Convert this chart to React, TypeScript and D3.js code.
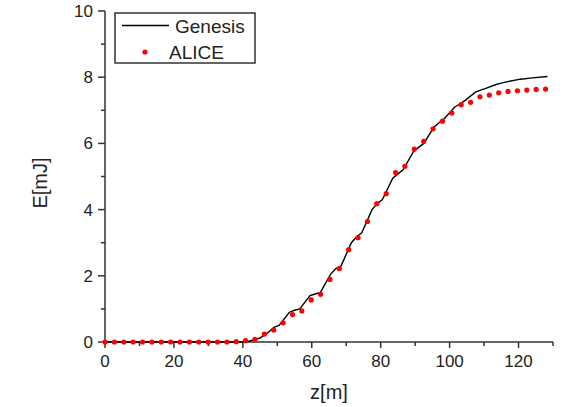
import React from "react";
import * as d3 from "d3";

const W = 567;
const H = 407;

// ALICE points: z = index * step
const aliceStep = 2.72;
const aliceE = [
  0, 0, 0, 0, 0, 0, 0, 0, 0, 0, 0, 0, 0, 0,
  0.01, 0.04, 0.08, 0.24, 0.36, 0.58, 0.83, 0.94, 1.27, 1.44,
  1.89, 2.22, 2.79, 3.15, 3.64, 4.18, 4.48, 5.12, 5.31, 5.83,
  6.06, 6.44, 6.67, 6.92, 7.17, 7.24, 7.41, 7.46, 7.53, 7.57,
  7.59, 7.61, 7.63, 7.64,
];

// Genesis curve
const genesisZ = [
  0, 40, 42, 45, 47.5, 49, 50.5, 53.5, 55, 56.5, 59.5, 61, 62.5, 65.5, 67, 68.5,
  71.5, 73, 74.5, 77.5, 79, 80.5, 83.5, 85, 86.5, 89.5, 91, 92.5, 95.5, 97, 98.5,
  101.5, 103, 104.5, 107.5, 109, 110.5, 113.5, 115, 116.5, 120.6, 124, 128.4,
];
const genesisE = [
  0, 0, 0.03, 0.12, 0.3, 0.44, 0.5, 0.9, 0.96, 1.0, 1.4, 1.45, 1.5, 2.05, 2.22, 2.3,
  3.0, 3.18, 3.3, 4.0, 4.18, 4.3, 4.95, 5.08, 5.2, 5.75, 5.88, 6.0, 6.5, 6.63, 6.75,
  7.1, 7.19, 7.3, 7.55, 7.61, 7.66, 7.78, 7.82, 7.86, 7.94, 7.98, 8.02,
];

const xMajor = [0, 20, 40, 60, 80, 100, 120];
const xMinor = [10, 30, 50, 70, 90, 110, 130];
const yMajor = [0, 2, 4, 6, 8, 10];
const yMinor = [1, 3, 5, 7, 9];

const seriesNames = ["Genesis", "ALICE"];

const FONT = "'Liberation Sans', Arial, sans-serif";

export default function App() {
  const left = 105;
  const right = 553;
  const top = 11;
  const bottom = 342;
  const x = d3.scaleLinear().domain([0, 130]).range([left, right]);
  const y = d3.scaleLinear().domain([0, 10]).range([bottom, top]);

  const genesis = genesisZ.map((z, i) => [z, genesisE[i]] as [number, number]);
  const line = d3
    .line<[number, number]>()
    .x((d) => x(d[0]))
    .y((d) => y(d[1]))(genesis) as string;

  const axisColor = "#333";
  const tickFs = 17;
  const dotR = 2.6;

  return (
    <svg
      width={W}
      height={H}
      style={{ position: "absolute", left: 0, top: 0, background: "#fff" }}
      fontFamily={FONT}
    >
      <rect width={W} height={H} fill="#fff" />
      {/* axes lines */}
      <line x1={left} x2={right} y1={bottom} y2={bottom} stroke={axisColor} strokeWidth={1.5} />
      <line x1={left} x2={left} y1={top} y2={bottom} stroke={axisColor} strokeWidth={1.5} />
      {xMajor.map((v) => (
        <g key={"xm" + v}>
          <line x1={x(v)} x2={x(v)} y1={bottom} y2={bottom + 6} stroke={axisColor} strokeWidth={1.5} />
          <text x={x(v)} y={bottom + 25} textAnchor="middle" fontSize={tickFs} fill="#222">
            {v}
          </text>
        </g>
      ))}
      {xMinor.map((v) => (
        <line key={"xn" + v} x1={x(v)} x2={x(v)} y1={bottom} y2={bottom + 4} stroke={axisColor} strokeWidth={1.5} />
      ))}
      {yMajor.map((v) => (
        <g key={"ym" + v}>
          <line x1={left - 7} x2={left} y1={y(v)} y2={y(v)} stroke={axisColor} strokeWidth={1.5} />
          <text x={left - 12} y={y(v) + 6} textAnchor="end" fontSize={tickFs} fill="#222">
            {v}
          </text>
        </g>
      ))}
      {yMinor.map((v) => (
        <line key={"yn" + v} x1={left - 4} x2={left} y1={y(v)} y2={y(v)} stroke={axisColor} strokeWidth={1.5} />
      ))}
      {/* axis titles */}
      <text x={(left + right) / 2} y={399} textAnchor="middle" fontSize={20} fill="#222">
        z[m]
      </text>
      <text
        transform={`translate(47, 183) rotate(-90)`}
        textAnchor="middle"
        fontSize={20}
        fill="#222"
      >
        E[mJ]
      </text>
      {/* data */}
      <path d={line} fill="none" stroke="#000" strokeWidth={1.4} />
      {aliceE.map((e, i) => (
        <circle key={"a" + i} cx={x(i * aliceStep)} cy={y(e)} r={dotR} fill="#ff0000" />
      ))}
      {/* legend */}
      <rect x={115} y={13} width={140} height={50} fill="#fff" stroke="#333" strokeWidth={1.5} />
      <line x1={122} x2={169} y1={25.5} y2={25.5} stroke="#000" strokeWidth={1.4} />
      <text x={175} y={33} fontSize={19} fill="#222">
        {seriesNames[0]}
      </text>
      <circle cx={145} cy={52} r={dotR} fill="#ff0000" />
      <text x={169} y={59} fontSize={19} fill="#222">
        {seriesNames[1]}
      </text>
    </svg>
  );
}
